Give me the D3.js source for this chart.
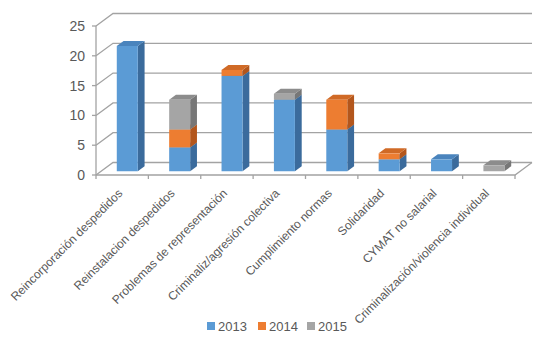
<!DOCTYPE html>
<html>
<head>
<meta charset="utf-8">
<script src="https://cdn.jsdelivr.net/npm/d3@7"></script>
<style>
  body { margin: 0; background: #fff; }
  text { font-family: "Liberation Sans", Arial, sans-serif; fill: #595959; }
</style>
</head>
<body>
<div id="chart"></div>
<script>
const categories = [
    "Reincorporación despedidos",
    "Reinstalacion despedidos",
    "Problemas de representación",
    "Criminaliz/agresión colectiva",
    "Cumplimiento normas",
    "Solidaridad",
    "CYMAT no salarial",
    "Criminalización/violencia individual"
];
const years = ["2013", "2014", "2015"];
const v2013 = [21, 4, 16, 12, 7, 2, 2, 0];
const v2014 = [0, 3, 1, 0, 5, 1, 0, 0];
const v2015 = [0, 5, 0, 1, 0, 0, 0, 1];
const yTicks = [0, 5, 10, 15, 20, 25];

const colors = {
    "2013": {front: "#5b9bd5", side: "#3b6b9c", top: "#4a84bd"},
    "2014": {front: "#ed7d31", side: "#b3561c", top: "#d06a26"},
    "2015": {front: "#a5a5a5", side: "#777777", top: "#8c8c8c"}
};

const W = 550, H = 342;
const depthX = 17, depthY = 12.5;

const svg = d3.select("#chart").append("svg")
    .attr("width", W).attr("height", H);

const x = d3.scaleBand().domain(categories).range([96, 515]);
const y = d3.scaleLinear().domain([0, 25]).range([175, 26]);

// project a point at depth z (0 = front, 1 = back wall)
const P = (px, py, z) => [px + z * depthX, py - z * depthY];
const poly = pts => pts.map(p => p.join(",")).join(" ");

const grid = svg.append("g")
    .attr("fill", "none")
    .attr("stroke", "#a3a3a3")
    .attr("stroke-width", 1.3);

// back wall gridlines and left wall diagonals
yTicks.forEach(t => {
    const a = P(96, y(t), 0), b = P(96, y(t), 1), c = P(515, y(t), 1);
    grid.append("polyline").attr("points", poly([a, b, c]));
});
// left axis
grid.append("line").attr("x1", 96).attr("x2", 96).attr("y1", y(25)).attr("y2", y(0));
// floor front and right edge
grid.append("polyline").attr("points", poly([P(96, y(0), 0), P(515, y(0), 0), P(515, y(0), 1)]));
// x ticks
const bounds = categories.map(c => x(c)).concat([515]);
bounds.forEach(b => {
    grid.append("line").attr("x1", b).attr("x2", b).attr("y1", y(0)).attr("y2", y(0) + 4);
});
// y ticks
yTicks.forEach(t => {
    grid.append("line").attr("x1", 92).attr("x2", 96).attr("y1", y(t)).attr("y2", y(t));
});

// y labels
svg.append("g").selectAll("text").data(yTicks).enter().append("text")
    .attr("x", 85).attr("y", d => y(d) + 5)
    .attr("text-anchor", "end")
    .style("font-size", "14px")
    .text(d => d);

// bars
const series = {"2013": v2013, "2014": v2014, "2015": v2015};
const bw = 21, z0 = 0.3, z1 = 0.7;
const bars = svg.append("g");

categories.forEach((c, i) => {
    const cx = x(c) + x.bandwidth() / 2;
    const xl = cx - bw / 2, xr = cx + bw / 2;
    let base = 0;
    years.forEach(yr => {
        const v = series[yr][i];
        if (!v) return;
        const yb = y(base), yt = y(base + v);
        const col = colors[yr];
        // side
        bars.append("polygon")
            .attr("points", poly([P(xr, yb, z0), P(xr, yb, z1), P(xr, yt, z1), P(xr, yt, z0)]))
            .attr("fill", col.side);
        // top
        bars.append("polygon")
            .attr("points", poly([P(xl, yt, z0), P(xr, yt, z0), P(xr, yt, z1), P(xl, yt, z1)]))
            .attr("fill", col.top);
        // front
        bars.append("polygon")
            .attr("points", poly([P(xl, yb, z0), P(xr, yb, z0), P(xr, yt, z0), P(xl, yt, z0)]))
            .attr("fill", col.front);
        base += v;
    });
});

// x labels
svg.append("g").selectAll("text").data(categories).enter().append("text")
    .attr("transform", d => `translate(${x(d) + x.bandwidth() / 2 + 1},${y(0) + 19}) rotate(-45)`)
    .attr("text-anchor", "end")
    .style("font-size", "12px")
    .text(d => d);

// legend
const legendX = [207, 258, 307];
const legend = svg.append("g");
years.forEach((yr, i) => {
    legend.append("rect")
        .attr("x", legendX[i]).attr("y", 322)
        .attr("width", 8).attr("height", 8)
        .attr("fill", colors[yr].front);
    legend.append("text")
        .attr("x", legendX[i] + 11).attr("y", 331)
        .style("font-size", "13px")
        .text(yr);
});
</script>
</body>
</html>
